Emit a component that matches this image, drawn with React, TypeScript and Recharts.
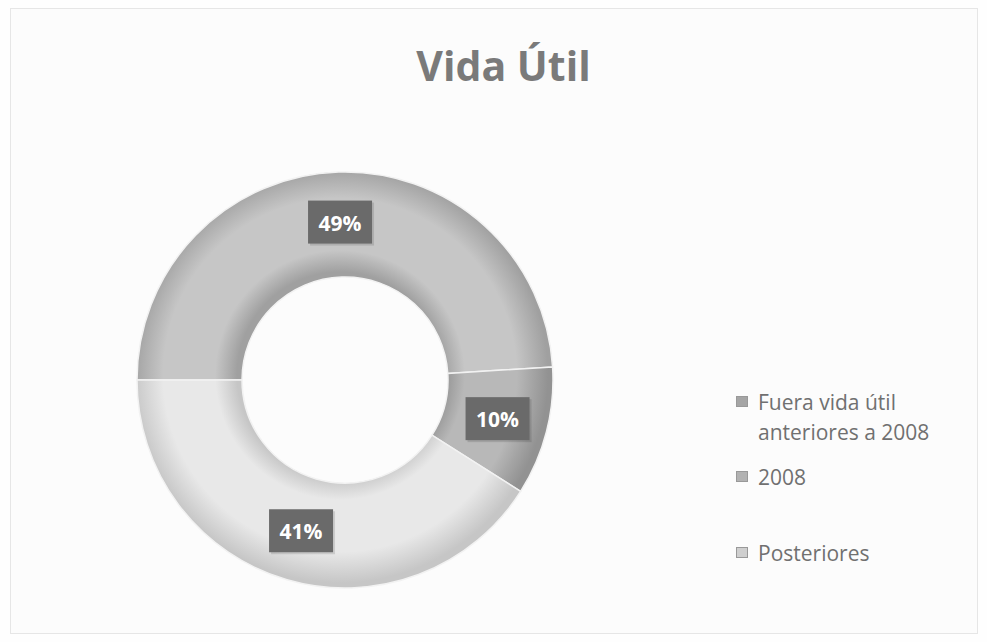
import { PieChart, Pie, Cell, Legend } from "recharts"

const categories = ["Fuera vida útil anteriores a 2008", "2008", "Posteriores"]
const shares = [49, 10, 41]
const legendLines = [["Fuera vida útil", "anteriores a 2008"], ["2008"], ["Posteriores"]]

const sliceColors = [
  { dark: "#a0a0a0", light: "#c6c6c6" },
  { dark: "#929292", light: "#b8b8b8" },
  { dark: "#c6c6c6", light: "#e8e8e8" },
]
const markerColors = ["#a5a5a5", "#b2b2b2", "#cfcfcf"]

const data = categories.map((name, i) => ({ name, value: shares[i] }))

const CX = 340
const CY = 375
const INNER = 103
const OUTER = 208

const RADIAN = Math.PI / 180

function LabelBox(props: any) {
  const { cx, cy, midAngle, innerRadius, outerRadius, value } = props
  const r = (innerRadius + outerRadius) / 2 + 2
  const x = cx + r * Math.cos(-midAngle * RADIAN)
  const y = cy + r * Math.sin(-midAngle * RADIAN)
  return (
    <g>
      <rect x={x - 30} y={y - 20} width={64} height={43} fill="#000" opacity={0.12} />
      <rect x={x - 32} y={y - 22} width={64} height={43} fill="#6a6a6a" />
      <text
        x={x}
        y={y}
        fill="#fff"
        textAnchor="middle"
        dominantBaseline="central"
        fontFamily="Open Sans, sans-serif"
        fontWeight={700}
        fontSize={21}
      >
        {value}%
      </text>
    </g>
  )
}

function LegendBox() {
  const rowTops = [387, 462, 538]
  return (
    <div style={{ position: "relative", width: 240, height: 200, fontFamily: "Open Sans, sans-serif" }}>
      {legendLines.map((lines, i) => (
        <div
          key={i}
          style={{
            position: "absolute",
            left: 0,
            top: rowTops[i] - 387,
            display: "flex",
            alignItems: "flex-start",
          }}
        >
          <div
            style={{
              width: 12,
              height: 11,
              marginTop: 9,
              marginRight: 10,
              background: markerColors[i],
              border: "1px solid #999",
              boxSizing: "border-box",
            }}
          />
          <div style={{ fontSize: 21, lineHeight: "30px", color: "#707070" }}>
            {lines.map((l) => (
              <div key={l}>{l}</div>
            ))}
          </div>
        </div>
      ))}
    </div>
  )
}

export default function App() {
  return (
    <div
      style={{
        position: "absolute",
        left: 0,
        top: 0,
        width: 987,
        height: 642,
        background: "#fefefe",
        overflow: "hidden",
      }}
    >
      <div
        style={{
          position: "absolute",
          left: 10,
          top: 8,
          width: 966,
          height: 624,
          border: "1px solid #e6e6e6",
          background: "#fcfcfc",
        }}
      />
      <div
        style={{
          position: "absolute",
          left: 0,
          width: 1007,
          top: 37,
          textAlign: "center",
          fontFamily: "Open Sans, sans-serif",
          fontWeight: 700,
          fontSize: 41,
          color: "#7a7a7a",
        }}
      >
        Vida Útil
      </div>
      <div style={{ position: "absolute", left: 0, top: 0 }}>
        <PieChart width={987} height={642}>
          <defs>
            {sliceColors.map((c, i) => (
              <radialGradient
                key={i}
                id={`ring${i}`}
                cx={CX}
                cy={CY}
                r={OUTER}
                gradientUnits="userSpaceOnUse"
              >
                <stop offset={INNER / OUTER} stopColor={c.dark} />
                <stop offset={0.6} stopColor={c.light} />
                <stop offset={0.85} stopColor={c.light} />
                <stop offset={1} stopColor={c.dark} />
              </radialGradient>
            ))}
          </defs>
          <Pie
            data={data}
            dataKey="value"
            nameKey="name"
            cx={CX}
            cy={CY}
            innerRadius={INNER}
            outerRadius={OUTER}
            startAngle={180}
            endAngle={-180}
            stroke="#f2f2f2"
            strokeWidth={1.5}
            label={LabelBox}
            labelLine={false}
            isAnimationActive={false}
          >
            {data.map((d, i) => (
              <Cell key={d.name} fill={`url(#ring${i})`} />
            ))}
          </Pie>
          <Legend
            layout="vertical"
            content={<LegendBox />}
            wrapperStyle={{ position: "absolute", left: 736, top: 387, width: 240 }}
          />
        </PieChart>
      </div>
    </div>
  )
}
